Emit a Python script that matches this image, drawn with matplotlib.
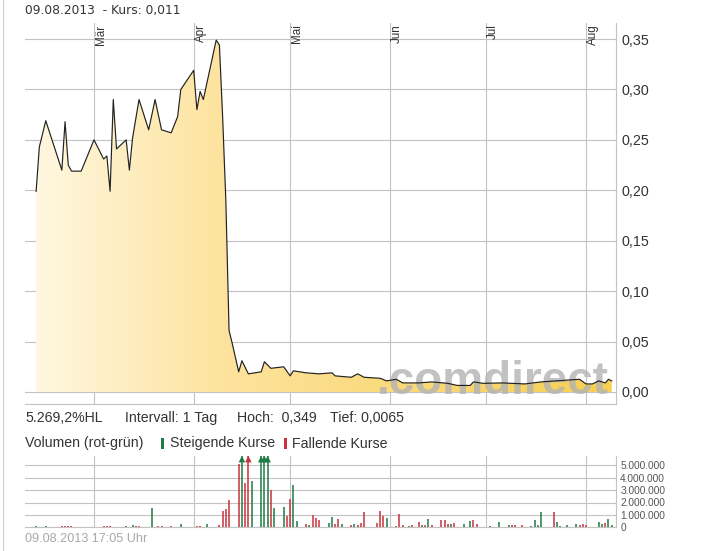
import matplotlib
matplotlib.use("Agg")
import matplotlib.pyplot as plt
import matplotlib.dates as mdates
import matplotlib.transforms as mtransforms
from matplotlib.colors import LinearSegmentedColormap
from matplotlib.patches import Rectangle
from matplotlib.lines import Line2D
import numpy as np
import pandas as pd

# ---------------- data ----------------
price_dates = ["2013-02-11", "2013-02-12", "2013-02-14", "2013-02-19", "2013-02-20", "2013-02-21",
               "2013-02-22", "2013-02-25", "2013-03-01", "2013-03-04", "2013-03-05", "2013-03-06",
               "2013-03-07", "2013-03-08", "2013-03-11", "2013-03-12", "2013-03-13", "2013-03-15",
               "2013-03-18", "2013-03-20", "2013-03-22", "2013-03-25", "2013-03-27", "2013-03-28",
               "2013-04-01", "2013-04-02", "2013-04-03", "2013-04-04", "2013-04-08", "2013-04-09",
               "2013-04-10", "2013-04-11", "2013-04-12", "2013-04-13", "2013-04-15", "2013-04-16",
               "2013-04-18", "2013-04-22", "2013-04-23", "2013-04-25", "2013-04-29", "2013-05-01",
               "2013-05-02", "2013-05-06", "2013-05-10", "2013-05-14", "2013-05-15", "2013-05-20",
               "2013-05-22", "2013-05-24", "2013-05-29", "2013-05-31", "2013-06-03", "2013-06-05",
               "2013-06-10", "2013-06-14", "2013-06-19", "2013-06-22", "2013-06-26", "2013-06-27",
               "2013-06-30", "2013-07-06", "2013-07-13", "2013-07-18", "2013-07-30", "2013-08-01",
               "2013-08-03", "2013-08-05", "2013-08-07", "2013-08-08", "2013-08-09"]
price_values = [0.199, 0.243, 0.269, 0.220, 0.268, 0.225,
                0.219, 0.219, 0.250, 0.231, 0.234, 0.199,
                0.290, 0.241, 0.250, 0.220, 0.252, 0.290,
                0.260, 0.290, 0.260, 0.257, 0.273, 0.300,
                0.319, 0.280, 0.298, 0.290, 0.349, 0.344,
                0.273, 0.190, 0.061, 0.048, 0.020, 0.031,
                0.018, 0.020, 0.030, 0.0235, 0.025, 0.016,
                0.021, 0.019, 0.018, 0.019, 0.016, 0.0146,
                0.018, 0.0146, 0.0136, 0.011, 0.0126, 0.009,
                0.009, 0.010, 0.0086, 0.0065, 0.0065, 0.010,
                0.0086, 0.009, 0.008, 0.010, 0.0126, 0.008,
                0.008, 0.011, 0.009, 0.0126, 0.011]

vol_dates = ["2013-02-11", "2013-02-12", "2013-02-14", "2013-02-19", "2013-02-20", "2013-02-21",
             "2013-02-22", "2013-02-25", "2013-02-28", "2013-03-01", "2013-03-04", "2013-03-05",
             "2013-03-06", "2013-03-08", "2013-03-11", "2013-03-13", "2013-03-14", "2013-03-15",
             "2013-03-19", "2013-03-21", "2013-03-22", "2013-03-25", "2013-03-27", "2013-03-28",
             "2013-04-01", "2013-04-02", "2013-04-03", "2013-04-05", "2013-04-09", "2013-04-10",
             "2013-04-11", "2013-04-12", "2013-04-15", "2013-04-16", "2013-04-17", "2013-04-18",
             "2013-04-19", "2013-04-22", "2013-04-23", "2013-04-24", "2013-04-25", "2013-04-26",
             "2013-04-29", "2013-04-30", "2013-05-01", "2013-05-02", "2013-05-03", "2013-05-06",
             "2013-05-07", "2013-05-08", "2013-05-09", "2013-05-10", "2013-05-13", "2013-05-14",
             "2013-05-15", "2013-05-16", "2013-05-17", "2013-05-20", "2013-05-21", "2013-05-22",
             "2013-05-23", "2013-05-24", "2013-05-28", "2013-05-29", "2013-05-30", "2013-05-31",
             "2013-06-03", "2013-06-04", "2013-06-05", "2013-06-07", "2013-06-08", "2013-06-10",
             "2013-06-11", "2013-06-12", "2013-06-13", "2013-06-14", "2013-06-17", "2013-06-18",
             "2013-06-19", "2013-06-20", "2013-06-21", "2013-06-24", "2013-06-26", "2013-06-27",
             "2013-06-28", "2013-07-02", "2013-07-05", "2013-07-08", "2013-07-09", "2013-07-10",
             "2013-07-12", "2013-07-15", "2013-07-16", "2013-07-17", "2013-07-18", "2013-07-22",
             "2013-07-23", "2013-07-24", "2013-07-26", "2013-07-29", "2013-07-30", "2013-07-31",
             "2013-08-01", "2013-08-05", "2013-08-06", "2013-08-07", "2013-08-08", "2013-08-09"]
vol_values = [0.08, 0.05, 0.08, 0.08, 0.10, 0.08,
              0.08, 0.05, 0.05, 0.05, 0.08, 0.08,
              0.08, 0.06, 0.10, 0.20, 0.10, 0.08,
              1.55, 0.10, 0.10, 0.08, 0.05, 0.25,
              0.05, 0.08, 0.08, 0.25, 0.20, 1.30,
              1.45, 2.20, 5.10, 7.00, 3.60, 7.00,
              3.75, 7.00, 7.00, 7.00, 3.00, 1.55,
              1.65, 0.95, 2.25, 3.40, 0.50, 0.25,
              0.15, 1.00, 0.75, 0.55, 0.35, 0.85,
              0.30, 0.65, 0.25, 0.20, 0.25, 0.20,
              0.35, 1.20, 0.35, 1.35, 0.95, 0.75,
              0.10, 1.10, 0.15, 0.10, 0.15, 0.40,
              0.15, 0.15, 0.70, 0.20, 0.55, 0.55,
              0.30, 0.30, 0.35, 0.30, 0.50, 0.60,
              0.25, 0.08, 0.45, 0.15, 0.20, 0.20,
              0.20, 0.10, 0.55, 0.20, 1.20, 1.20,
              0.45, 0.10, 0.15, 0.30, 0.20, 0.30,
              0.20, 0.40, 0.30, 0.35, 0.65, 0.15]  # millions of shares
vol_rising = [1, 1, 1, 0, 0, 0,
              0, 1, 1, 1, 0, 0,
              0, 0, 1, 1, 0, 0,
              1, 0, 0, 0, 1, 1,
              1, 0, 0, 1, 0, 0,
              0, 0, 0, 1, 0, 0,
              1, 1, 1, 1, 0, 1,
              1, 0, 0, 1, 1, 0,
              1, 0, 0, 0, 1, 1,
              0, 0, 1, 0, 1, 0,
              0, 0, 0, 0, 0, 1,
              0, 0, 0, 1, 0, 0,
              1, 0, 1, 0, 0, 0,
              0, 1, 0, 1, 1, 0,
              0, 1, 1, 1, 0, 0,
              0, 1, 1, 1, 1, 0,
              1, 1, 1, 1, 0, 0,
              0, 1, 1, 0, 1, 1]

month_ticks = ["2013-03-01", "2013-04-01", "2013-05-01", "2013-06-01", "2013-07-01", "2013-08-01"]
month_labels = ["Mär", "Apr", "Mai", "Jun", "Jul", "Aug"]
price_ticks = [0.00, 0.05, 0.10, 0.15, 0.20, 0.25, 0.30, 0.35]
vol_ticks = [0, 1, 2, 3, 4, 5]
vol_tick_labels = ["0", "1.000.000", "2.000.000", "3.000.000", "4.000.000", "5.000.000"]
title_text = "09.08.2013  - Kurs: 0,011"
stats_texts = ["5.269,2%HL", "Intervall: 1 Tag", "Hoch:  0,349", "Tief: 0,0065"]
legend_title = "Volumen (rot-grün)"
legend_up = "Steigende Kurse"
legend_down = "Fallende Kurse"
footer_text = "09.08.2013 17:05 Uhr"
watermark = ".comdirect"

# ---------------- layout ----------------
W, H = 703, 551
fig = plt.figure(figsize=(W / 100, H / 100), dpi=100)
fig.patch.set_facecolor("white")


def fx(px):
    return px / W


def fy(py):
    return 1 - py / H


SANS = ["Liberation Sans", "DejaVu Sans"]
VERD = ["DejaVu Sans"]
GRID = "#c3c3c3"
TXT = "#333333"
UP = "#1f7a45"
DOWN = "#c8323c"

x_left = pd.Timestamp("2013-02-07 13:00")
x_right = pd.Timestamp("2013-08-10 08:00")

pdates = pd.to_datetime(price_dates)
pvals = np.array(price_values)
mdates_list = pd.to_datetime(month_ticks)

# ---- price axes ----
ax = fig.add_axes([fx(25), fy(404), fx(616) - fx(25), fy(23) - fy(404)])
ax.set_facecolor("white")
ax.set_xlim(x_left, x_right)
ylo, yhi = -0.0119, 0.3659
ax.set_ylim(ylo, yhi)

poly = ax.fill_between(pdates, pvals, 0, color="none", lw=0, zorder=1)
cmap = LinearSegmentedColormap.from_list(
    "goldfill", [(0.0, "#fff7e0"), (0.32, "#fde39e"), (1.0, "#f7cf52")])
x0 = mdates.date2num(pdates[0])
x1 = mdates.date2num(pdates[-1])
grad = np.linspace(0, 1, 512).reshape(1, -1)
im = ax.imshow(grad, extent=[x0, x1, 0, yhi], aspect="auto", cmap=cmap,
               origin="lower", zorder=1, interpolation="bilinear")
im.set_clip_path(poly.get_paths()[0], transform=ax.transData)
ax.set_xlim(x_left, x_right)
ax.set_ylim(ylo, yhi)

ax.text(fx(377), fy(394), watermark, transform=fig.transFigure, family=SANS,
        fontsize=33, fontweight="bold", color="#b3b3b3", alpha=0.8, zorder=2,
        va="baseline", ha="left", clip_on=False)

ax.plot(pdates, pvals, color="#222222", lw=0.85, zorder=3)

ax.set_xticks(mdates_list)
ax.set_xticklabels([])
ax.tick_params(axis="x", length=0)
ax.set_yticks(price_ticks)
ax.set_yticklabels([f"{v:.2f}".replace(".", ",") for v in price_ticks],
                   family=SANS, fontsize=10.3, color=TXT)
ax.yaxis.tick_right()
ax.tick_params(axis="y", length=0, pad=4)
ax.grid(True, color=GRID, lw=0.8, zorder=0)
ax.set_axisbelow(True)
for s in ["left", "top"]:
    ax.spines[s].set_visible(False)
for s in ["right", "bottom"]:
    ax.spines[s].set_color(GRID)
    ax.spines[s].set_linewidth(0.8)

trans = mtransforms.offset_copy(ax.get_xaxis_transform(), fig=fig, x=1.0, y=-1.5, units="dots")
for d, lab in zip(mdates_list, month_labels):
    ax.text(d, 1.0, lab, transform=trans, rotation=90, ha="left", va="top",
            family=SANS, fontsize=8.4, color=TXT)

# ---- volume axes ----
vdates = pd.to_datetime(vol_dates)
vvals = np.array(vol_values)
vcols = [UP if r else DOWN for r in vol_rising]
vtop = 5.75
ax2 = fig.add_axes([fx(25), fy(527.3), fx(616) - fx(25), fy(456) - fy(527.3)])
ax2.set_xlim(x_left, x_right)
ax2.set_ylim(0, vtop)
ax2.vlines(vdates, 0, np.minimum(vvals, vtop), colors=vcols, lw=1.1, zorder=3)
over = vvals > vtop
ax2.scatter(vdates[over], np.full(over.sum(), 5.5), marker="^", s=22,
            c=[c for c, o in zip(vcols, over) if o], zorder=4, clip_on=False, linewidths=0)
ax2.set_xticks(mdates_list)
ax2.set_xticklabels([])
ax2.tick_params(axis="x", length=0)
ax2.set_yticks(vol_ticks)
ax2.set_yticklabels(vol_tick_labels, family=SANS, fontsize=7.3, color="#555555")
ax2.yaxis.tick_right()
ax2.tick_params(axis="y", length=0, pad=3)
ax2.grid(True, color=GRID, lw=0.8, zorder=0)
ax2.set_axisbelow(True)
for s in ["left", "top"]:
    ax2.spines[s].set_visible(False)
for s in ["right", "bottom"]:
    ax2.spines[s].set_color(GRID)
    ax2.spines[s].set_linewidth(0.8)

# ---- texts ----
fig.text(fx(25), fy(10.5), title_text, family=VERD, fontsize=8.8, color=TXT, va="center")
for xpx, t in zip([25, 125, 236.7, 330], stats_texts):
    fig.text(fx(xpx), fy(418), t, family=SANS, fontsize=10.2, color=TXT, va="center")
fig.text(fx(25), fy(443.5), legend_title, family=SANS, fontsize=10.2, color=TXT, va="center")
fig.patches.append(Rectangle((fx(161), fy(449)), fx(3), 11 / H, transform=fig.transFigure,
                             facecolor=UP, edgecolor="none"))
fig.text(fx(170), fy(443.5), legend_up, family=SANS, fontsize=10.2, color=TXT, va="center")
fig.patches.append(Rectangle((fx(284), fy(449)), fx(3), 11 / H, transform=fig.transFigure,
                             facecolor=DOWN, edgecolor="none"))
fig.text(fx(292), fy(443.5), legend_down, family=SANS, fontsize=10.2, color=TXT, va="center")
fig.text(fx(25), fy(539.5), footer_text, family=SANS, fontsize=9.1, color="#a8a8a8", va="center")

fig.lines.append(Line2D([fx(3), fx(3)], [0, 1], transform=fig.transFigure, color="#cfcfcf", lw=0.8))

fig.savefig("out.png", dpi=100, facecolor="white")
